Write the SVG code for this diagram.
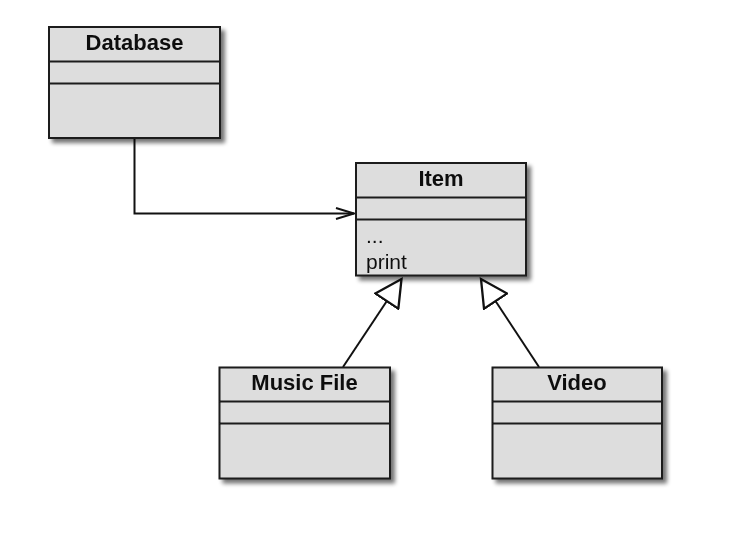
<svg xmlns="http://www.w3.org/2000/svg" width="748" height="556" viewBox="0 0 748 556">
<style>
.box{fill:#dddddd;stroke:#1a1a1a;stroke-width:2}
.div{stroke:#1a1a1a;stroke-width:2;fill:none}
.title{font-family:"Liberation Sans",Arial,sans-serif;font-weight:bold;font-size:22px;fill:#111;text-anchor:middle}
.attr{font-family:"Liberation Sans",Arial,sans-serif;font-size:21px;fill:#111}
.conn{stroke:#111;stroke-width:2;fill:none}
</style>
<defs>
<filter id="sh" x="-10%" y="-10%" width="130%" height="130%">
<feGaussianBlur in="SourceAlpha" stdDeviation="2"/>
<feOffset dx="4" dy="4" result="b"/>
<feComponentTransfer><feFuncA type="linear" slope="0.55"/></feComponentTransfer>
<feMerge><feMergeNode/><feMergeNode in="SourceGraphic"/></feMerge>
</filter>
<marker id="open" markerUnits="userSpaceOnUse" markerWidth="24" markerHeight="16" refX="20" refY="7" orient="auto" viewBox="0 0 24 14">
<path d="M2,1.5 L20,7 L2,12.5" fill="none" stroke="#111" stroke-width="2"/>
</marker>
<marker id="tri" markerUnits="userSpaceOnUse" markerWidth="30" markerHeight="30" refX="24" refY="13" orient="auto" viewBox="0 0 26 26">
<path d="M1,1 L24,13 L1,25 Z" fill="#ffffff" stroke="#111" stroke-width="2" stroke-linejoin="miter"/>
</marker>
</defs>
<rect width="748" height="556" fill="#ffffff"/>
<g id="connectors">
<path class="conn" d="M134.5,139 L134.5,213.5 L354,213.5" marker-end="url(#open)"/>
<path class="conn" d="M343,367 L401.5,279" marker-end="url(#tri)"/>
<path class="conn" d="M539,367 L481,279" marker-end="url(#tri)"/>
</g>
<g id="database" filter="url(#sh)">
<rect class="box" x="49" y="27" width="171" height="111"/>
<line class="div" x1="49" y1="61.5" x2="220" y2="61.5"/>
<line class="div" x1="49" y1="83.5" x2="220" y2="83.5"/>
<text class="title" x="134.5" y="50">Database</text>
</g>
<g id="item" filter="url(#sh)">
<rect class="box" x="356" y="163" width="170" height="112.5"/>
<line class="div" x1="356" y1="197.5" x2="526" y2="197.5"/>
<line class="div" x1="356" y1="219.5" x2="526" y2="219.5"/>
<text class="title" x="441" y="186">Item</text>
<text class="attr" x="366" y="243">...</text>
<text class="attr" x="366" y="269">print</text>
</g>
<g id="musicfile" filter="url(#sh)">
<rect class="box" x="219.5" y="367.5" width="170.5" height="111"/>
<line class="div" x1="219.5" y1="401.5" x2="390" y2="401.5"/>
<line class="div" x1="219.5" y1="423.5" x2="390" y2="423.5"/>
<text class="title" x="304.5" y="390">Music File</text>
</g>
<g id="video" filter="url(#sh)">
<rect class="box" x="492.5" y="367.5" width="169.5" height="111"/>
<line class="div" x1="492.5" y1="401.5" x2="662" y2="401.5"/>
<line class="div" x1="492.5" y1="423.5" x2="662" y2="423.5"/>
<text class="title" x="577" y="390">Video</text>
</g>
</svg>
